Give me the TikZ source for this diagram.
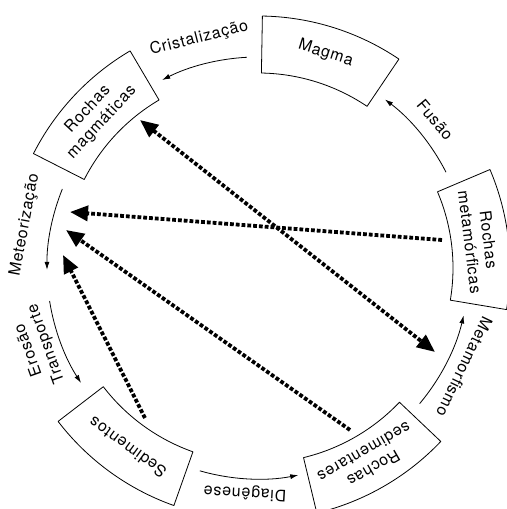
\documentclass[tikz,border=0pt]{standalone}
\usepackage{fontspec}
\setmainfont[LetterSpace=5]{TeX Gyre Heros}
\usetikzlibrary{arrows.meta}

\tikzset{
  rockbox/.style={draw=black,line width=0.8bp},
  rocklabel/.style={align=center,font=\fontsize{16}{19}\selectfont,inner sep=0pt},
  steplabel/.style={align=center,font=\fontsize{16}{19}\selectfont,inner sep=0pt},
  cyclearrow/.style={line width=0.8bp,-{Latex[length=8bp,width=5bp]}},
  linkarrow/.style={line width=3.8bp,dash pattern=on 3.8bp off 2bp,-{Triangle[length=18bp,width=15bp]}},
  linkboth/.style={linkarrow,{Triangle[length=18bp,width=15bp]}-{Triangle[length=18bp,width=15bp]}},
}
% sector shaped box between two angles
\newcommand{\rocksector}[2]{\draw[rockbox] (#1:195bp) arc[start angle=#1,end angle=#2,radius=195bp] -- (#2:252bp) arc[start angle=#2,end angle=#1,radius=252bp] -- cycle;}

\begin{document}
\begin{tikzpicture}[line join=bevel]
\useasboundingbox (0,0) rectangle (507bp,509bp);
\begin{scope}[shift={(258bp,241bp)}]
%% boxes
  \rocksector{56}{89}
  \rocksector{120.5}{153}
  \rocksector{-9.5}{23}
  \rocksector{-76.5}{-43.5}
  \rocksector{-142.5}{-109.5}
  \node (magma) at (72.5:225bp) [rocklabel,rotate=-17.5] {Magma};
  \node (magmaticas) at (137:223bp) [rocklabel,rotate=47] {Rochas\\magmáticas};
  \node (metamorficas) at (7:223bp) [rocklabel,rotate=-83] {Rochas\\metamórficas};
  \node (sedimentares) at (-60:222bp) [rocklabel,rotate=-150] {Rochas\\sedimentares};
  \node (sedimentos) at (-126:222bp) [rocklabel,rotate=144] {Sedimentos};
%% process labels
  \node (cristalizacao) at (104.4:237bp) [steplabel,rotate=14.4] {Cristalização};
  \node (fusao) at (39.9:231bp) [steplabel,rotate=-50.1] {Fusão};
  \node (metamorfismo) at (-25.6:229bp) [steplabel,rotate=-115.6] {Metamorfismo};
  \node (diagenese) at (-93.3:225bp) [steplabel,rotate=-183.3] {Diagênese};
  \node (meteorizacao) at (169.5:237bp) [steplabel,rotate=79.5] {Meteorização};
  \node (erosao) at (199.7:234bp) [steplabel,rotate=109.7] {Erosão\\Transporte};
%% cycle arrows
  \coordinate (cristS) at (93:211bp);
  \coordinate (fusaoS) at (27:211bp);
  \coordinate (metamS) at (-40:211bp);
  \coordinate (diagS) at (-106:211bp);
  \coordinate (meteorS) at (158:211bp);
  \coordinate (erosaoS) at (189:211bp);
  \draw [cyclearrow] (cristS) arc[start angle=93,end angle=117,radius=211bp];
  \draw [cyclearrow] (fusaoS) arc[start angle=27,end angle=53,radius=211bp];
  \draw [cyclearrow] (metamS) arc[start angle=-40,end angle=-13,radius=211bp];
  \draw [cyclearrow] (diagS) arc[start angle=-106,end angle=-79,radius=211bp];
  \draw [cyclearrow] (meteorS) arc[start angle=158,end angle=180.5,radius=211bp];
  \draw [cyclearrow] (erosaoS) arc[start angle=189,end angle=213,radius=211bp];
\end{scope}
%% shortcuts
\coordinate (fromMet) at (442bp,269bp);
\coordinate (fromSedRock) at (350bp,79bp);
\coordinate (fromSed) at (145bp,91bp);
\coordinate (toMeteor1) at (70bp,297bp);
\coordinate (toMeteor2) at (66bp,279bp);
\coordinate (toMeteor3) at (63bp,254bp);
\coordinate (nearMag) at (140bp,389bp);
\coordinate (nearMetam) at (435bp,157bp);
\draw [linkarrow] (fromMet) -- (toMeteor1);
\draw [linkarrow] (fromSedRock) -- (toMeteor2);
\draw [linkarrow] (fromSed) -- (toMeteor3);
\draw [linkboth] (nearMag) -- (nearMetam);
%
\end{tikzpicture}
\end{document}
